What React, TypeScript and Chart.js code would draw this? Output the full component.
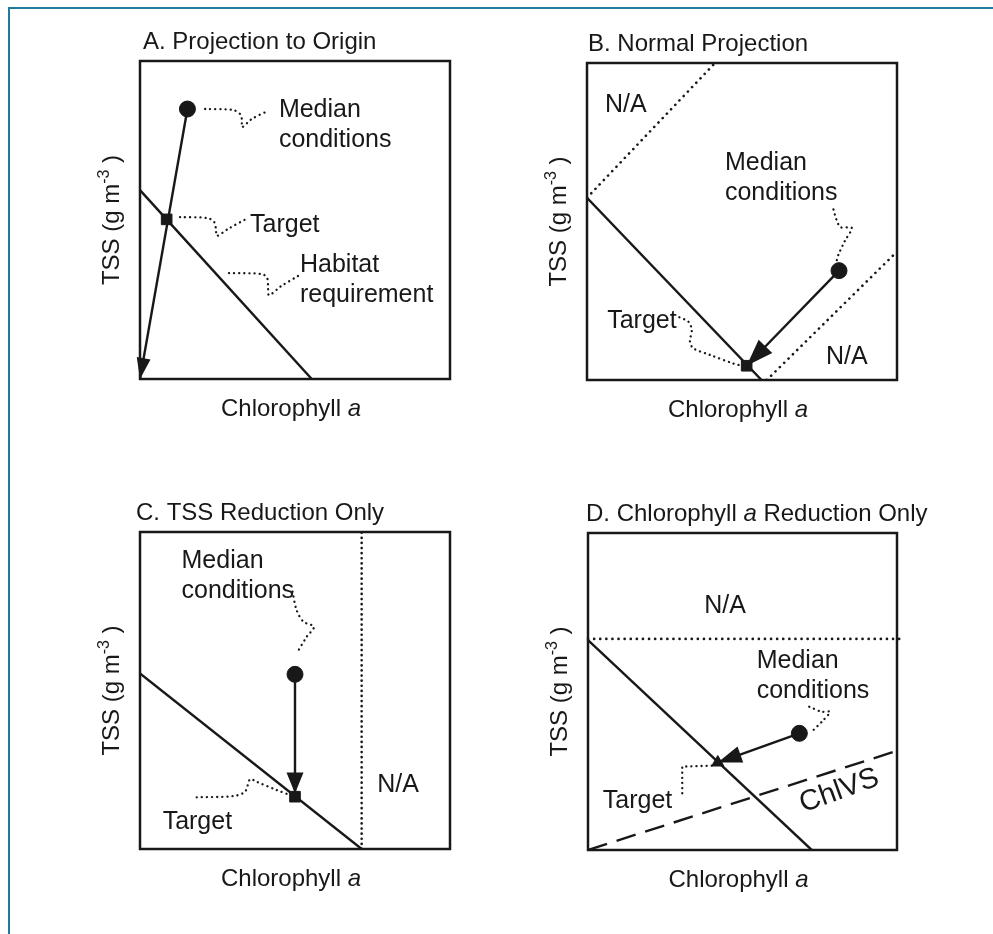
import React, { useEffect, useRef } from "react";
import { Chart, registerables } from "chart.js";

Chart.register(...registerables);

type Pt = [number, number];

// ---------------- data (schematic units, 0-100 on both axes) ----------------
const AXIS_MIN = 0;
const AXIS_MAX = 100;

// Panel A - Projection to Origin
const A_HABITAT: Pt[] = [[0, 59.4], [55.4, 0]];
const A_MEDIAN: Pt[] = [[15.3, 84.9]];
const A_TARGET: Pt[] = [[8.6, 50.2]];
const A_ARROW: Pt[] = [[15.3, 84.9], [0, 0]];
const A_LEAD_MEDIAN: Pt[] = [[21.0, 84.9], [30.0, 84.6], [32.3, 83.3], [32.9, 81.4], [32.9, 79.2], [36.1, 81.8], [41.3, 84.3]];
const A_LEAD_TARGET: Pt[] = [[12.9, 50.9], [21.9, 50.6], [23.9, 49.4], [24.5, 47.2], [24.8, 45.0], [28.4, 47.2], [34.2, 50.3]];
const A_LEAD_HABITAT: Pt[] = [[28.7, 33.3], [39.4, 33.0], [41.0, 31.8], [41.3, 29.6], [41.6, 26.4], [45.5, 29.2], [51.0, 32.4]];

// Panel B - Normal Projection
const B_HABITAT: Pt[] = [[0, 57.5], [56.3, 0]];
const B_NA_UPPER: Pt[] = [[0, 57.5], [41.3, 100]];
const B_NA_LOWER: Pt[] = [[58, 0], [100, 40.5]];
const B_MEDIAN: Pt[] = [[81.3, 34.5]];
const B_TARGET: Pt[] = [[51.5, 4.5]];
const B_ARROW: Pt[] = [[81.3, 34.5], [51.5, 4.5]];
const B_LEAD_MEDIAN: Pt[] = [[79.5, 53.8], [80.5, 50.5], [81.8, 48.2], [85.4, 48.0], [83.2, 43.9], [81.1, 39.5], [80.5, 37.5]];
const B_LEAD_TARGET: Pt[] = [[29.8, 19.8], [32.7, 18.4], [33.8, 15.8], [33.2, 12.1], [34.3, 10.0], [39.7, 7.9], [47.2, 5.2], [50.4, 4.4]];

// Panel C - TSS Reduction Only
const C_HABITAT: Pt[] = [[0, 55.4], [71.5, 0]];
const C_NA: Pt[] = [[71.5, 0], [71.5, 100]];
const C_MEDIAN: Pt[] = [[50, 55.1]];
const C_TARGET: Pt[] = [[50, 16.5]];
const C_ARROW: Pt[] = [[50, 55.1], [50, 17.5]];
const C_LEAD_MEDIAN: Pt[] = [[49.2, 81.2], [50.5, 75.4], [52.7, 71.7], [56.1, 70.1], [53.8, 67.0], [50.5, 61.7]];
const C_LEAD_TARGET: Pt[] = [[18.3, 16.3], [30.1, 16.7], [33.9, 18.1], [35.5, 22.0], [37.6, 21.2], [44.1, 18.6], [48.4, 17.0]];

// Panel D - Chlorophyll a Reduction Only
const D_NA: Pt[] = [[0, 66.6], [101.5, 66.6]];
const D_HABITAT: Pt[] = [[0, 66.2], [72.4, 0]];
const D_CHLVS: Pt[] = [[0, 0], [100, 31.3]];
const D_MEDIAN: Pt[] = [[68.4, 36.8]];
const D_TARGET: Pt[] = [[42, 27.6]];
const D_ARROW: Pt[] = [[68.4, 36.8], [42, 27.6]];
const D_LEAD_MEDIAN: Pt[] = [[71.6, 45.2], [75.6, 43.6], [78.3, 43.6], [76.2, 41.0], [72.4, 37.3]];
const D_LEAD_TARGET: Pt[] = [[30.5, 17.9], [30.5, 26.3], [40.2, 26.6]];

// Texts
const TITLE_A = [{ t: "A. Projection to Origin" }];
const TITLE_B = [{ t: "B. Normal Projection" }];
const TITLE_C = [{ t: "C. TSS Reduction Only" }];
const TITLE_D = [{ t: "D. Chlorophyll " }, { t: "a", i: true }, { t: " Reduction Only" }];
const X_LABEL = [{ t: "Chlorophyll " }, { t: "a", i: true }];
const Y_LABEL = [{ t: "TSS (g m" }, { t: "-3", sup: true }, { t: " )" }];

// Annotation anchors (data units)
const LABELS_A = [
  { lines: ["Median", "conditions"], at: [44.8, 82.4] },
  { lines: ["Target"], at: [35.5, 46.2] },
  { lines: ["Habitat", "requirement"], at: [51.6, 33.6] },
];
const LABELS_B = [
  { lines: ["N/A"], at: [5.8, 84.6] },
  { lines: ["Median", "conditions"], at: [44.5, 66.2] },
  { lines: ["Target"], at: [6.5, 16.4] },
  { lines: ["N/A"], at: [77.1, 5.0] },
];
const LABELS_C = [
  { lines: ["Median", "conditions"], at: [13.4, 88.5] },
  { lines: ["Target"], at: [7.3, 6.2] },
  { lines: ["N/A"], at: [76.5, 18.1] },
];
const LABELS_D = [
  { lines: ["N/A"], at: [37.6, 74.9] },
  { lines: ["Median", "conditions"], at: [54.6, 57.3] },
  { lines: ["Target"], at: [4.8, 13.2] },
  { lines: ["ChlVS"], at: [69.7, 11.8], rotate: -20, size: 29 },
];

// ---------------- styles ----------------
const INK = "#181818";
const FONT = "'Liberation Sans', Arial, Helvetica, sans-serif";
const FRAME = "#1f7b9b";

type Seg = { t: string; i?: boolean; sup?: boolean };

function segFont(s: Seg, size: number) {
  const sz = s.sup ? Math.round(size * 0.68) : size;
  return `${s.i ? "italic " : ""}${sz}px ${FONT}`;
}

function drawRich(ctx: CanvasRenderingContext2D, segs: Seg[], x: number, y: number, size: number, align: "left" | "center") {
  let total = 0;
  segs.forEach((s) => {
    ctx.font = segFont(s, size);
    total += ctx.measureText(s.t).width;
  });
  let cx = align === "center" ? x - total / 2 : x;
  ctx.textAlign = "left";
  ctx.textBaseline = "alphabetic";
  segs.forEach((s) => {
    ctx.font = segFont(s, size);
    ctx.fillText(s.t, cx, y + (s.sup ? -size * 0.42 : 0));
    cx += ctx.measureText(s.t).width;
  });
}

const arrowPlugin = {
  id: "arrowHeads",
  afterDatasetsDraw(chart: any) {
    const ctx = chart.ctx as CanvasRenderingContext2D;
    chart.data.datasets.forEach((ds: any, i: number) => {
      const head = ds.arrowHead;
      if (!head) return;
      const pts = chart.getDatasetMeta(i).data;
      const n = pts.length;
      if (n < 2) return;
      const a = pts[n - 2];
      const b = pts[n - 1];
      const ang = Math.atan2(b.y - a.y, b.x - a.x);
      ctx.save();
      ctx.translate(b.x, b.y);
      ctx.rotate(ang);
      ctx.beginPath();
      ctx.moveTo(0, 0);
      ctx.lineTo(-head.length, head.width / 2);
      ctx.lineTo(-head.length, -head.width / 2);
      ctx.closePath();
      ctx.fillStyle = INK;
      ctx.fill();
      ctx.restore();
    });
  },
};

const textPlugin = {
  id: "schematicText",
  afterDraw(chart: any, _args: any, opts: any) {
    const ctx = chart.ctx as CanvasRenderingContext2D;
    const { left, top, right, bottom } = chart.chartArea;
    const xs = chart.scales.x;
    const ys = chart.scales.y;
    ctx.save();
    // plot frame
    ctx.strokeStyle = INK;
    ctx.lineWidth = 2.5;
    ctx.strokeRect(left, top, right - left, bottom - top);
    ctx.fillStyle = INK;
    // title
    drawRich(ctx, opts.title, left + opts.titleDx, top - 12, 24, "left");
    // x label
    drawRich(ctx, X_LABEL, (left + right) / 2 - 4, bottom + 37, 24, "center");
    // y label
    ctx.save();
    ctx.translate(left - 21, (top + bottom) / 2);
    ctx.rotate(-Math.PI / 2);
    drawRich(ctx, Y_LABEL, 0, 0, 24, "center");
    ctx.restore();
    // annotations
    opts.labels.forEach((lab: any) => {
      const px = xs.getPixelForValue(lab.at[0]);
      const py = ys.getPixelForValue(lab.at[1]);
      const size = lab.size || 25;
      ctx.save();
      ctx.translate(px, py);
      if (lab.rotate) ctx.rotate((lab.rotate * Math.PI) / 180);
      lab.lines.forEach((ln: string, k: number) => {
        drawRich(ctx, [{ t: ln }], 0, k * 30, size, "left");
      });
      ctx.restore();
    });
    ctx.restore();
  },
};

const toXY = (pts: Pt[]) => pts.map(([x, y]) => ({ x, y }));

function solid(pts: Pt[], extra: any = {}) {
  return { data: toXY(pts), showLine: true, borderColor: INK, borderWidth: 2.4, pointRadius: 0, order: 3, ...extra };
}
function dotted(pts: Pt[], extra: any = {}) {
  return {
    data: toXY(pts),
    showLine: true,
    borderColor: INK,
    borderWidth: 2.3,
    borderDash: [0.1, 5],
    borderCapStyle: "round",
    pointRadius: 0,
    tension: 0.3,
    order: 4,
    ...extra,
  };
}
function marker(pts: Pt[], style: string, radius: number) {
  return {
    data: toXY(pts),
    showLine: false,
    pointStyle: style,
    pointRadius: radius,
    pointBackgroundColor: INK,
    pointBorderColor: INK,
    pointBorderWidth: 1,
    order: 1,
  };
}
function arrow(pts: Pt[], length: number, width: number) {
  return { ...solid(pts), arrowHead: { length, width }, order: 2 };
}

type PanelCfg = {
  L: number; T: number; W: number; H: number;
  title: Seg[]; titleDx: number; labels: any[]; datasets: any[];
};

const PAD = { left: 80, top: 51, right: 40, bottom: 71 };

const PANELS: PanelCfg[] = [
  {
    L: 140, T: 61, W: 310, H: 318, title: TITLE_A, titleDx: 3, labels: LABELS_A,
    datasets: [
      marker(A_MEDIAN, "circle", 8),
      marker(A_TARGET, "rect", 7.5),
      arrow(A_ARROW, 21, 14),
      solid(A_HABITAT),
      dotted(A_LEAD_MEDIAN),
      dotted(A_LEAD_TARGET),
      dotted(A_LEAD_HABITAT),
    ],
  },
  {
    L: 587, T: 63, W: 310, H: 317, title: TITLE_B, titleDx: 1, labels: LABELS_B,
    datasets: [
      marker(B_MEDIAN, "circle", 8),
      marker(B_TARGET, "rect", 7.5),
      arrow(B_ARROW, 27, 19),
      solid(B_HABITAT),
      dotted(B_NA_UPPER, { tension: 0, borderDash: [0.1, 6], borderWidth: 2.6 }),
      dotted(B_NA_LOWER, { tension: 0, borderDash: [0.1, 6], borderWidth: 2.6 }),
      dotted(B_LEAD_MEDIAN),
      dotted(B_LEAD_TARGET),
    ],
  },
  {
    L: 140, T: 532, W: 310, H: 317, title: TITLE_C, titleDx: -4, labels: LABELS_C,
    datasets: [
      marker(C_MEDIAN, "circle", 8),
      marker(C_TARGET, "rect", 7.5),
      arrow(C_ARROW, 21, 17),
      solid(C_HABITAT),
      dotted(C_NA, { tension: 0, borderDash: [0.1, 5], borderWidth: 2.6 }),
      dotted(C_LEAD_MEDIAN),
      dotted(C_LEAD_TARGET),
    ],
  },
  {
    L: 588, T: 533, W: 309, H: 317, title: TITLE_D, titleDx: -2, labels: LABELS_D,
    datasets: [
      marker(D_MEDIAN, "circle", 8),
      marker(D_TARGET, "triangle", 7),
      arrow(D_ARROW, 24, 17),
      solid(D_HABITAT),
      solid(D_CHLVS, { borderDash: [20, 10], borderCapStyle: "butt" }),
      dotted(D_NA, { tension: 0, borderDash: [0.1, 6], borderWidth: 2.6, clip: false }),
      dotted(D_LEAD_MEDIAN),
      dotted(D_LEAD_TARGET, { tension: 0 }),
    ],
  },
];

function Panel({ cfg }: { cfg: PanelCfg }) {
  const ref = useRef<HTMLCanvasElement | null>(null);
  const width = cfg.W + PAD.left + PAD.right;
  const height = cfg.H + PAD.top + PAD.bottom;
  useEffect(() => {
    if (!ref.current) return;
    const chart = new Chart(ref.current, {
      type: "scatter",
      data: { datasets: cfg.datasets },
      options: {
        responsive: false,
        animation: false,
        events: [],
        devicePixelRatio: 1,
        layout: { padding: PAD },
        scales: {
          x: { type: "linear", min: AXIS_MIN, max: AXIS_MAX, display: false },
          y: { type: "linear", min: AXIS_MIN, max: AXIS_MAX, display: false },
        },
        plugins: {
          legend: { display: false },
          tooltip: { enabled: false },
          schematicText: { title: cfg.title, titleDx: cfg.titleDx, labels: cfg.labels },
        } as any,
      },
      plugins: [arrowPlugin, textPlugin],
    } as any);
    return () => chart.destroy();
  }, [cfg]);
  return (
    <canvas
      ref={ref}
      width={width}
      height={height}
      style={{ position: "absolute", left: cfg.L - PAD.left, top: cfg.T - PAD.top, width, height }}
    />
  );
}

export default function App() {
  return (
    <div style={{ position: "absolute", left: 0, top: 0, width: 993, height: 934, background: "#fff", overflow: "hidden" }}>
      <div
        style={{
          position: "absolute",
          left: 8,
          top: 7,
          right: 0,
          bottom: 0,
          borderTop: `2px solid ${FRAME}`,
          borderLeft: `2px solid ${FRAME}`,
        }}
      />
      {PANELS.map((p, i) => (
        <Panel key={i} cfg={p} />
      ))}
    </div>
  );
}
